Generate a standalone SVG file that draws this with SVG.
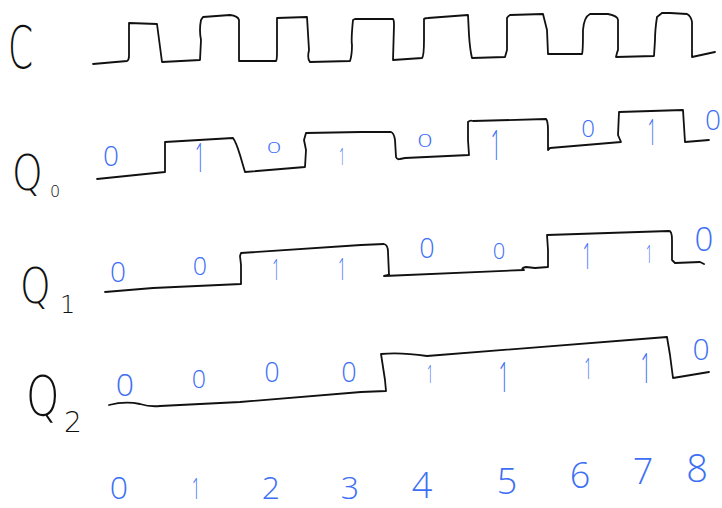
<svg xmlns="http://www.w3.org/2000/svg" width="722" height="508" viewBox="0 0 722 508">
<style>
.w{fill:none;stroke:#111;stroke-width:1.8;stroke-linejoin:round;stroke-linecap:round}
.lbl{font-family:"DejaVu Sans",sans-serif;font-weight:200;fill:#111}
.b{font-family:"Open Sans","DejaVu Sans",sans-serif;font-weight:300;fill:#3d6ff5;text-anchor:middle}
</style>
<rect width="722" height="508" fill="#fff"/>
<g id="labels">
<text class="lbl" font-size="58" transform="translate(8,68) scale(0.62,1)">C</text>
<text class="lbl" font-size="50" transform="translate(12,190) scale(0.78,1)">Q</text>
<text class="lbl" font-size="16" x="50" y="197">0</text>
<text class="lbl" font-size="50" transform="translate(20,303) scale(0.78,1)">Q</text>
<text class="lbl" font-size="24" x="60" y="313">1</text>
<text class="lbl" font-size="56" transform="translate(26,415) scale(0.76,1)">Q</text>
<text class="lbl" font-size="28" x="64" y="432">2</text>
</g>
<g id="signal-C">
<path class="w" d="M93,64 L127,61 Q129,60 129,56 L129,23 L157,24 L162,62 L200,60 L201,40 Q199,30 201,20 L203,17 L230,15 Q238,16 239,20 L239,61 L276,61 Q277,60 277,52 L277,18 L307,17 L309,50 Q307,59 310,62 L350,61 Q352,55 352,45 Q351,40 353,20 L355,19 L393,19 Q394,20 394,25 L393,60 L422,58 Q424,56 424,40 L424,19 Q425,18 428,18 L468,15 L469,35 Q470,50 472,58 L505,57 L507,50 L507,18 Q508,16 510,15 L543,14 L547,30 L548,54 L582,54 Q583,52 583,30 Q584,17 590,14 L608,14 Q618,16 618,20 L618,50 Q617,52 616,57 L654,56 L655,40 Q655,30 657,17 L662,13 L670,13 L687,14 Q691,16 692,22 L692,57 L715,52"/>
</g>
<g id="signal-Q0">
<path class="w" d="M97,179 L165,172 L165,142 L233,138 Q236,142 240,155 L245,172 L305,167 L306,150 L304,140 L306,133 L361,132 L391,132 Q394,133 395,140 L396,157 Q397,160 400,159 L405,158 L469,155 L468,140 L468,122 Q470,120 473,121 L546,119 Q548,121 548,130 L548,150 L550,148 L621,142 L618,135 L619,112 L683,110 L685,142 L709,140"/>
<text class="b" font-size="28" x="111" y="166">0</text>
<text class="b" font-size="40" transform="translate(200,172) scale(0.45,1)">1</text>
<text class="b" font-size="16" transform="translate(274,153) scale(1.6,0.9)">0</text>
<text class="b" font-size="24" transform="translate(342,165) scale(0.45,1)">1</text>
<text class="b" font-size="18" transform="translate(425,147) scale(1.5,1)">0</text>
<text class="b" font-size="42" transform="translate(496,160) scale(0.45,1)">1</text>
<text class="b" font-size="24" x="588" y="137">0</text>
<text class="b" font-size="36" transform="translate(652,145) scale(0.45,1)">1</text>
<text class="b" font-size="28" x="713" y="130">0</text>
</g>
<g id="signal-Q1">
<path class="w" d="M105,292 L153,288 L241,284 L241,265 L240,256 L241,253 L361,245 L384,244 Q388,245 388,252 L389,275 L384,276 L524,270 Q520,268 526,267 L535,268 L548,267 L548,250 L547,235 L669,231 Q672,231 672,240 L672,260 L675,263 L700,262 L704,264"/>
<text class="b" font-size="28" x="118" y="282">0</text>
<text class="b" font-size="25" x="200" y="275">0</text>
<text class="b" font-size="30" transform="translate(276,280) scale(0.45,1)">1</text>
<text class="b" font-size="32" transform="translate(342,280) scale(0.45,1)">1</text>
<text class="b" font-size="27" x="427" y="258">0</text>
<text class="b" font-size="22" x="499" y="259">0</text>
<text class="b" font-size="36" transform="translate(587,269) scale(0.45,1)">1</text>
<text class="b" font-size="26" transform="translate(649,263) scale(0.45,1)">1</text>
<text class="b" font-size="33" x="704" y="251">0</text>
</g>
<g id="signal-Q2">
<path class="w" d="M109,405 Q125,401 140,404 Q150,407 160,406 L240,402 L361,392 L386,391 L385,380 L381,354 Q400,352 427,356 L667,337 L670,355 L673,378 L709,372"/>
<text class="b" font-size="32" x="125" y="396">0</text>
<text class="b" font-size="25" x="199" y="388">0</text>
<text class="b" font-size="27" x="272" y="382">0</text>
<text class="b" font-size="27" x="349" y="382">0</text>
<text class="b" font-size="26" transform="translate(430,383) scale(0.45,1)">1</text>
<text class="b" font-size="42" transform="translate(504,392) scale(0.45,1)">1</text>
<text class="b" font-size="30" transform="translate(588,379) scale(0.45,1)">1</text>
<text class="b" font-size="42" transform="translate(646,383) scale(0.45,1)">1</text>
<text class="b" font-size="30" x="701" y="360">0</text>
</g>
<g id="axis-numbers">
<text class="b" font-size="32" x="119" y="499">0</text>
<text class="b" font-size="30" transform="translate(196,499) scale(0.5,1)">1</text>
<text class="b" font-size="32" x="271" y="499">2</text>
<text class="b" font-size="32" x="350" y="499">3</text>
<text class="b" font-size="36" x="422" y="498">4</text>
<text class="b" font-size="36" x="507" y="494">5</text>
<text class="b" font-size="36" x="580" y="488">6</text>
<text class="b" font-size="36" x="643" y="484">7</text>
<text class="b" font-size="38" x="697" y="482">8</text>
</g>
</svg>
